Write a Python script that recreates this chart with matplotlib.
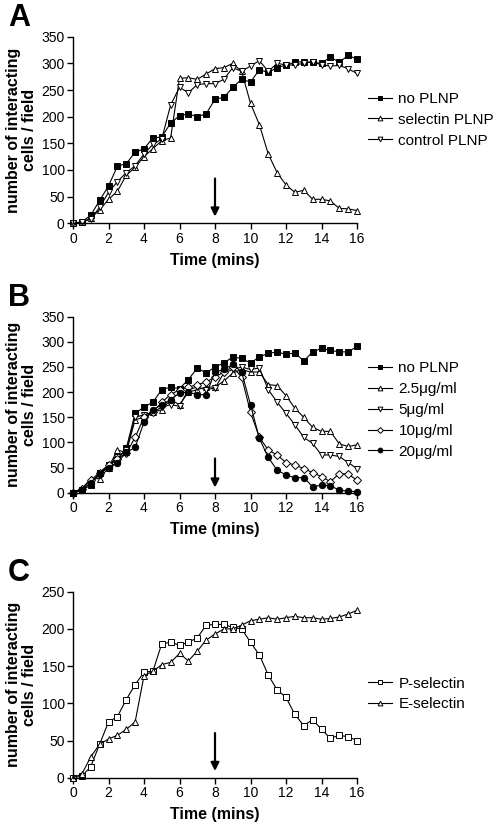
import numpy as np
import matplotlib
matplotlib.use("Agg")
import matplotlib.pyplot as plt

plt.rcParams['font.family'] = ['Liberation Sans', 'DejaVu Sans']

# --- Data: time points every 0.5 min ---
time = np.arange(0, 16.5, 0.5)

# Panel A
a_no_plnp = [0, 3, 15, 43, 70, 107, 112, 133, 140, 160, 162, 188, 202, 205, 200, 205, 233,
             236, 255, 270, 265, 288, 283, 292, 297, 302, 303, 302, 300, 312, 302, 315, 308]
a_selectin = [0, 2, 10, 25, 45, 60, 90, 105, 125, 140, 155, 160, 272, 273, 270, 280, 290,
              292, 300, 285, 225, 185, 130, 95, 72, 58, 62, 45, 45, 42, 28, 27, 24]
a_control = [0, 2, 8, 30, 58, 78, 95, 108, 130, 148, 158, 222, 255, 245, 260, 262, 262,
             270, 292, 285, 295, 305, 285, 300, 297, 297, 300, 303, 297, 295, 296, 290, 281]

# Panel B
b_no_plnp = [0, 5, 15, 40, 55, 65, 88, 158, 170, 180, 205, 210, 207, 225, 248, 238, 250,
             258, 270, 267, 258, 270, 277, 280, 275, 278, 262, 280, 287, 283, 280, 280, 291]
b_2_5 = [0, 8, 28, 28, 50, 85, 80, 145, 150, 160, 165, 185, 175, 200, 205, 210, 210,
         222, 238, 245, 240, 240, 215, 213, 193, 168, 150, 130, 122, 122, 97, 92, 95]
b_5 = [0, 5, 20, 35, 55, 70, 85, 150, 155, 160, 170, 175, 172, 205, 210, 205, 208,
       238, 245, 250, 245, 248, 205, 180, 158, 135, 110, 98, 75, 75, 72, 60, 48]
b_10 = [0, 8, 25, 40, 55, 68, 78, 110, 150, 160, 180, 195, 205, 210, 215, 220, 230,
        240, 250, 230, 160, 110, 85, 75, 60, 55, 48, 40, 32, 22, 38, 37, 25]
b_20 = [0, 5, 20, 38, 50, 60, 80, 90, 140, 165, 175, 185, 198, 200, 195, 195, 240,
        245, 255, 240, 175, 108, 70, 45, 35, 30, 30, 12, 15, 14, 5, 3, 2]

# Panel C
c_p_selectin = [0, 2, 15, 45, 75, 82, 105, 125, 142, 143, 180, 182, 178, 182, 188, 205, 206,
                206, 202, 200, 182, 165, 138, 118, 108, 85, 70, 78, 65, 53, 57, 55, 50]
c_e_selectin = [0, 5, 28, 45, 52, 57, 65, 75, 137, 143, 152, 155, 167, 157, 170, 185, 193,
                200, 200, 205, 211, 213, 215, 213, 215, 217, 215, 215, 213, 214, 216, 220, 225]

panels = [
    ("A", 350, [
        (a_no_plnp, "no PLNP", "s", "black"),
        (a_selectin, "selectin PLNP", "^", "white"),
        (a_control, "control PLNP", "v", "white"),
    ], 84, 0.555),
    ("B", 350, [
        (b_no_plnp, "no PLNP", "s", "black"),
        (b_2_5, "2.5\u03bcg/ml", "^", "white"),
        (b_5, "5\u03bcg/ml", "v", "white"),
        (b_10, "10\u03bcg/ml", "D", "white"),
        (b_20, "20\u03bcg/ml", "o", "black"),
    ], 68, 0.47),
    ("C", 250, [
        (c_p_selectin, "P-selectin", "s", "white"),
        (c_e_selectin, "E-selectin", "^", "white"),
    ], 60, 0.45),
]

# axes boxes in pixels: (top, bottom)
boxes = [(36.7, 223.3), (316.7, 492.7), (591.7, 777.7)]
W, H = 503, 830
left_px, right_px = 73, 357

fig = plt.figure(figsize=(W / 100, H / 100), dpi=100)

for (letter, ymax, series, arrow_top, leg_y), (top, bot) in zip(panels, boxes):
    ax = fig.add_axes([left_px / W, 1 - bot / H, (right_px - left_px) / W, (bot - top) / H])
    for vals, label, mk, fc in series:
        ms = 4.0 if mk == "D" else 4.6
        ax.plot(time, vals, color="black", linewidth=0.8, marker=mk, markersize=ms,
                markerfacecolor=fc, markeredgecolor="black", markeredgewidth=0.7,
                label=label, clip_on=False)
    ax.set_xlim(0, 16)
    ax.set_ylim(0, ymax)
    ax.set_xticks(range(0, 17, 2))
    ax.set_yticks(range(0, ymax + 1, 50))
    ax.spines['top'].set_visible(False)
    ax.spines['right'].set_visible(False)
    ax.spines['left'].set_linewidth(1.0)
    ax.spines['bottom'].set_linewidth(1.0)
    ax.tick_params(direction='out', length=4, width=1.0, labelsize=10, pad=2)
    ax.set_xlabel("Time (mins)", fontsize=11.5, fontweight='bold', labelpad=5)
    ax.set_ylabel("number of interacting\ncells / field", fontsize=11.5, fontweight='bold',
                  labelpad=3, linespacing=1.1)
    # arrow at 8 min
    ax.annotate("", xy=(8, arrow_top * 0.15), xytext=(8, arrow_top),
                arrowprops=dict(arrowstyle="-|>", color="black", lw=1.6,
                                mutation_scale=12, shrinkA=0, shrinkB=0))
    ax.legend(loc='center left', bbox_to_anchor=(0.99, leg_y), frameon=False, fontsize=11,
              handlelength=1.6, handletextpad=0.4, labelspacing=0.45, markerscale=0.75)
    fig.text(8 / W, 1 - (top - 19) / H, letter, fontsize=22, fontweight='bold',
             va='center', ha='left')

fig.savefig("out.png", dpi=100)
